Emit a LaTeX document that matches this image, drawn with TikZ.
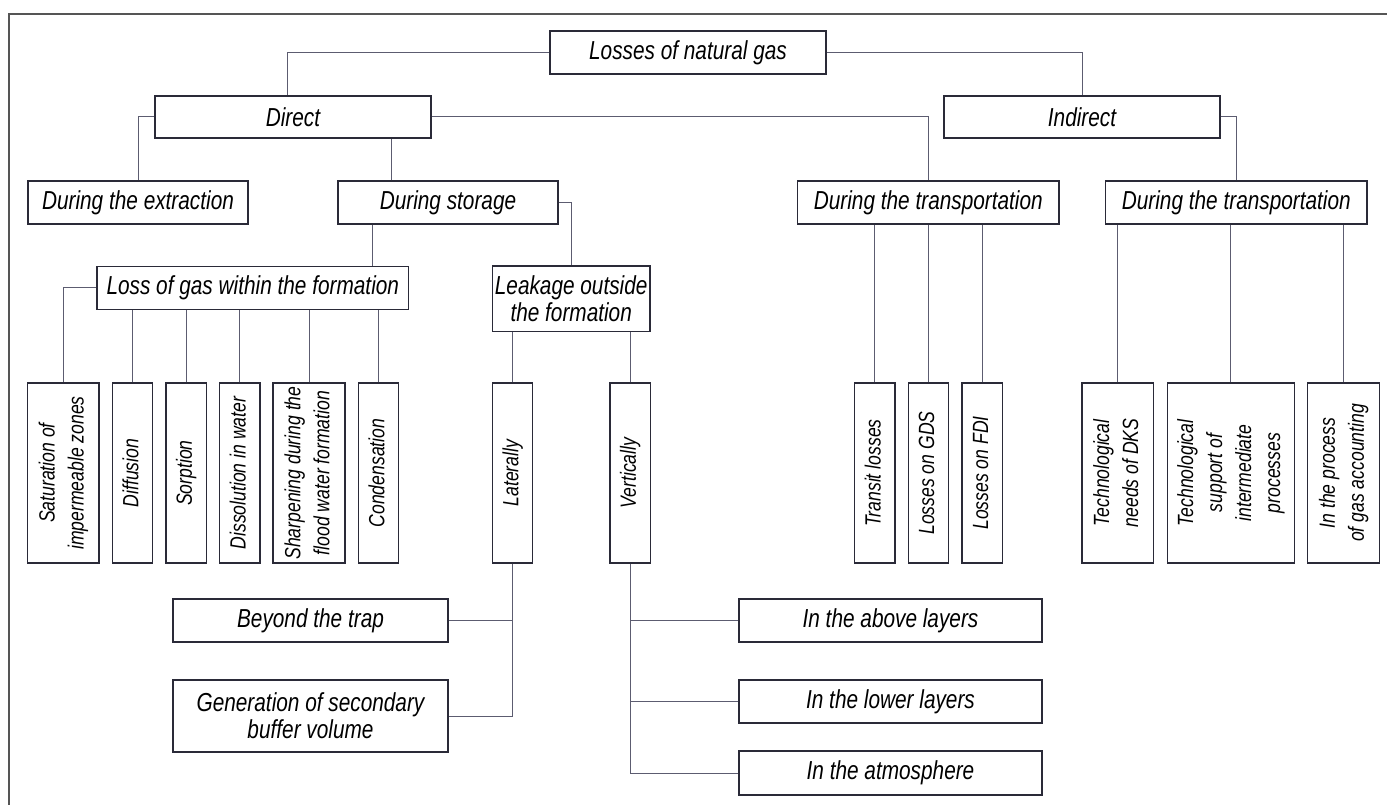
\documentclass[tikz,border=0pt]{standalone}
\usepackage{fontspec}
\setmainfont{Liberation Sans}[FakeStretch=0.8]
\usepackage{xcolor}
\definecolor{boxline}{HTML}{2A2A38}
\definecolor{wireline}{HTML}{5C5C70}
\definecolor{frameline}{HTML}{555555}
\newcommand{\vlabel}[1]{\rotatebox{90}{\fontsize{22}{29}\selectfont\itshape\begin{tabular}{@{}c@{}}#1\end{tabular}}}

\begin{document}
\begin{tikzpicture}[x=1pt,y=-1pt,
  box/.style={draw=boxline,line width=1.2pt,minimum height=43pt,inner sep=0pt,align=center,
    font=\fontsize{26}{27}\selectfont\itshape},
  vbox/.style={draw=boxline,line width=1.2pt,minimum width=40pt,minimum height=180pt,inner sep=0pt},
  wire/.style={draw=wireline,line width=1pt}]
\useasboundingbox (0,0) rectangle (1387,805);
\draw[frameline,line width=1.5pt] (9,805) -- (9,14) -- (1387,14);

\node[box,minimum width=276pt] (losses) at (688,52.5) {Losses of natural gas};
\node[box,minimum width=276pt,minimum height=42pt] (direct) at (293,117) {Direct};
\node[box,minimum width=276pt,minimum height=42pt] (indirect) at (1082,117) {Indirect};
\node[box,minimum width=220pt] (extraction) at (138,202.5) {During the extraction};
\node[box,minimum width=220pt] (storage) at (448,202.5) {During storage};
\node[box,minimum width=261.5pt] (transpA) at (928.3,202.5) {During the transportation};
\node[box,minimum width=261.5pt] (transpB) at (1236.3,202.5) {During the transportation};
\node[box,minimum width=311.5pt] (withinf) at (252.8,287.7) {Loss of gas within the formation};
\node[box,minimum width=157.6pt,minimum height=65.7pt] (outsidef) at (571.2,298.9) {Leakage outside\\the formation};

  \foreach \nm/\xc/\bw/\lbl in {satur/63.4/71.3/{Saturation of\\impermeable zones},
    diffus/132.6/40.2/Diffusion, sorpt/186/40.2/Sorption, dissol/239.8/40.2/Dissolution in water,
    sharpen/309/72/{Sharpening during the\\flood water formation}, condens/378.6/40.2/Condensation,
    lateral/512.5/40.2/Laterally, vertic/630/40.2/Vertically,
    transit/874.7/40.6/Transit losses, gds/928.4/40.6/Losses on GDS, fdi/982.2/40.4/Losses on FDI,
    dks/1117.8/71.6/{Technological\\needs of DKS},
    support/1230.9/127/{Technological\\support of\\intermediate\\processes},
    account/1343.5/72.5/{In the process\\of gas accounting}}
  {  \node[vbox,minimum width=\bw pt] (\nm) at (\xc,473) {\vlabel{\lbl}};}

\node[box,minimum width=275pt] (beyondtrap) at (310.5,620.5) {Beyond the trap};
\node[box,minimum width=275pt,minimum height=72pt] (secbuffer) at (310.5,716) {Generation of secondary\\buffer volume};
\node[box,minimum width=303pt] (abovel) at (890.5,620.5) {In the above layers};
\node[box,minimum width=303pt] (lowerl) at (890.5,701.5) {In the lower layers};
\node[box,minimum width=303pt,minimum height=44pt] (atmos) at (890.5,773) {In the atmosphere};

% upper levels
\draw[wire] (losses.west) -| ([xshift=-6pt]direct.north);
\draw[wire] (losses.east) -| (indirect.north);
\draw[wire] (direct.west) -| (extraction.north);
\draw[wire] (direct.east) -| (transpA.north);
\draw[wire] ([xshift=-57pt]storage.north) -- ([xshift=-57pt]storage.north |- direct.south);
\draw[wire] (indirect.east) -| (transpB.north);
\draw[wire] (storage.east) -| (outsidef.north);
\draw[wire] ([xshift=120pt]withinf.north) -- ([xshift=120pt]withinf.north |- storage.south);
\draw[wire] (withinf.west) -| (satur.north);

% vertical boxes
  \foreach \nm in {diffus,sorpt,dissol,sharpen,condens}
  {  \draw[wire] (\nm.north) -- (\nm.north |- withinf.south);}
  \foreach \nm in {lateral,vertic}
  {  \draw[wire] (\nm.north) -- (\nm.north |- outsidef.south);}
  \foreach \nm in {transit,gds,fdi}
  {  \draw[wire] (\nm.north) -- (\nm.north |- transpA.south);}
  \foreach \nm in {dks,support,account}
  {  \draw[wire] (\nm.north) -- (\nm.north |- transpB.south);}

% bottom level
\draw[wire] (lateral.south) |- (secbuffer.east);
\draw[wire] (beyondtrap.east) -- (beyondtrap.east -| lateral.south);
\draw[wire] (vertic.south) |- (atmos.west);
  \foreach \nm in {abovel,lowerl}
  {  \draw[wire] (\nm.west) -- (\nm.west -| vertic.south);}
\end{tikzpicture}
\end{document}
